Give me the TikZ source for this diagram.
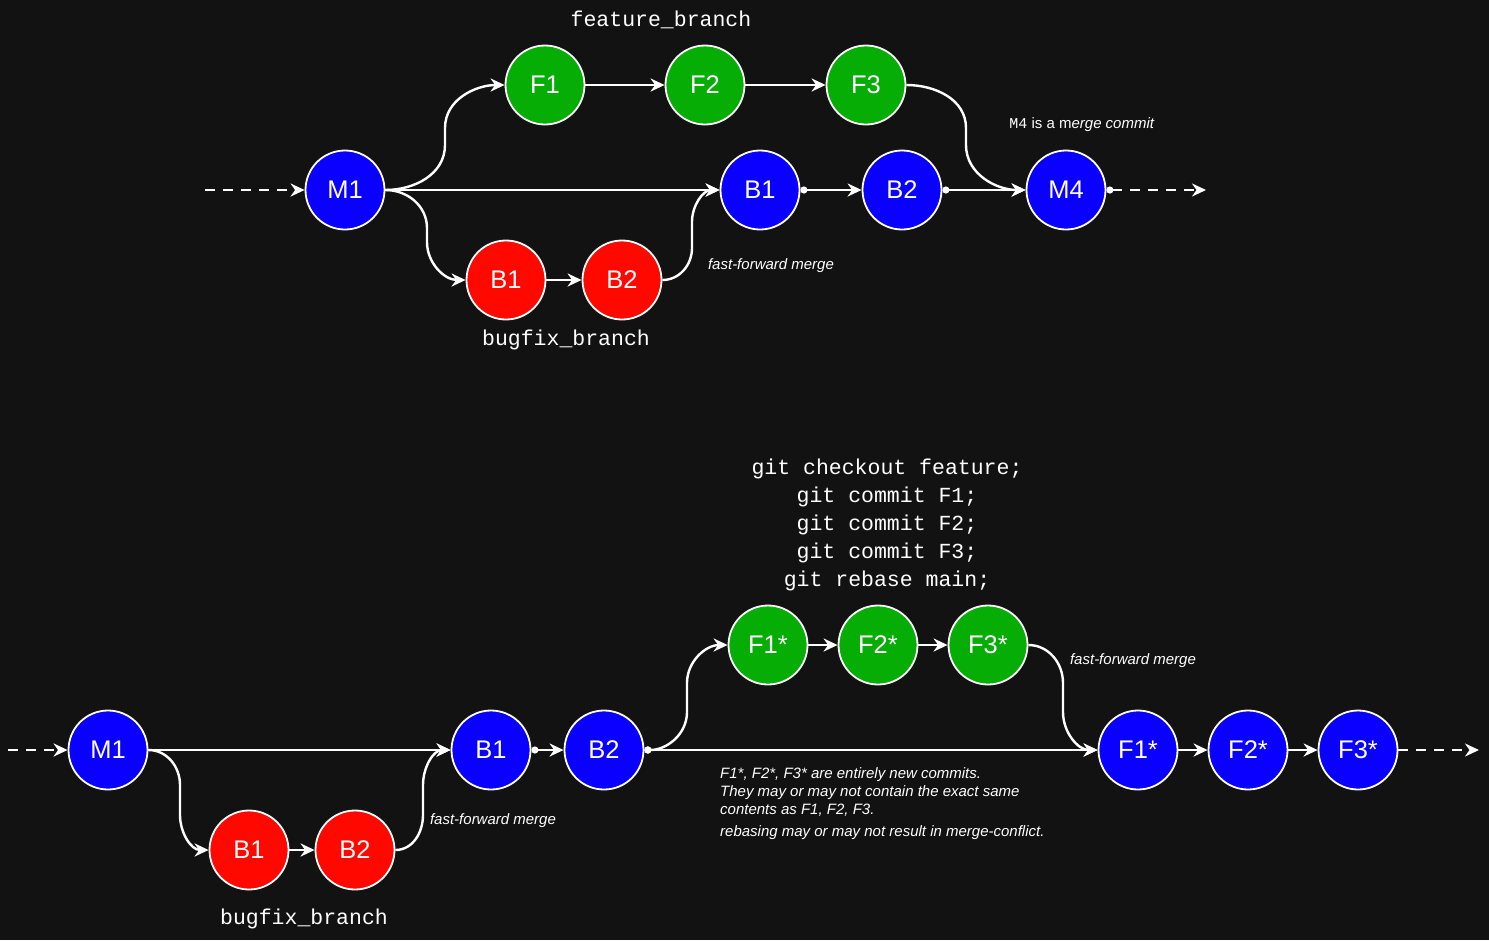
\documentclass[tikz,border=0pt]{standalone}
\usepackage{fontspec}
\setmainfont{Liberation Sans}
\setmonofont{Liberation Mono}
\usetikzlibrary{arrows.meta}
\definecolor{bg}{HTML}{121212}
\definecolor{cblue}{HTML}{0A00FF}
\definecolor{cgreen}{HTML}{05AD05}
\definecolor{cred}{HTML}{FF0800}
\tikzset{
  commit/.style={circle, draw=white, line width=1.8pt, minimum size=79pt, inner sep=0pt, text=white, font=\fontsize{25.5}{25.5}\selectfont},
  bluec/.style={commit, fill=cblue},
  greenc/.style={commit, fill=cgreen},
  redc/.style={commit, fill=cred},
  edge/.style={draw=white, line width=2.4pt, -{Stealth[length=14pt,width=13pt,inset=4.5pt]}},
  dotedge/.style={draw=white, line width=2.4pt, {Circle[length=7pt,width=7pt]}-{Stealth[length=14pt,width=13pt,inset=4.5pt]}},
  dashedge/.style={edge, dash pattern=on 10pt off 8pt},
  dotdashedge/.style={dotedge, dash pattern=on 10pt off 8pt},
  mono/.style={text=white, font=\ttfamily\fontsize{21.5}{28}\selectfont, inner sep=0pt},
  note/.style={text=white, font=\itshape\fontsize{15}{18}\selectfont, inner sep=0pt},
}
\begin{document}
\begin{tikzpicture}[x=1pt, y=-1pt]
\fill[bg] (0,0) rectangle (1489,940);
\useasboundingbox (0,0) rectangle (1489,940);

% ---------- top diagram ----------
\coordinate (tin) at (205,190);
\coordinate (tout) at (1206,190);
\node[bluec] (tM1) at (345,190) {M1};
\node[greenc] (tF1) at (545,85) {F1};
\node[greenc] (tF2) at (705,85) {F2};
\node[greenc] (tF3) at (866,85) {F3};
\node[bluec] (tB1) at (760,190) {B1};
\node[bluec] (tB2) at (902,190) {B2};
\node[bluec] (tM4) at (1066,190) {M4};
\node[redc] (tR1) at (506,280) {B1};
\node[redc] (tR2) at (622,280) {B2};

\node[mono] (tfeat) at (661,20) {feature\_branch};
\node[mono] (tbug) at (566,340) {bugfix\_branch};
\node[text=white, inner sep=0pt, font=\fontsize{15}{15}\selectfont] (tm4note) at (1082,125) {{\ttfamily M4} is a m\textit{erge commit}};
\node[note] (tff) at (771,266) {fast-forward merge};

\draw[dashedge] (tin) -- (tM1.west);
\draw[edge] (tM1.east) to[out=0,in=-90] (445,145) -- (445,128) to[out=90,in=180] (tF1.west);
\draw[edge] (tF1) -- (tF2);
\draw[edge] (tF2) -- (tF3);
\draw[edge] (tM1.east) -- (tB1.west);
\draw[edge] (tM1.east) to[out=0,in=90] (427,228) -- (427,242) to[out=-90,in=180] (tR1.west);
\draw[edge] (tR1) -- (tR2);
\draw[edge] (tR2.east) to[out=0,in=-90] (692,248) -- (692,222) to[out=90,in=180] (tB1.west);
\draw[dotedge] (tB1.east) -- (tB2.west);
\draw[dotedge] (tB2.east) -- (tM4.west);
\draw[edge] (tF3.east) to[out=0,in=90] (966,128) -- (966,145) to[out=-90,in=180] (tM4.west);
\draw[dotdashedge] (tM4.east) -- (tout);

% ---------- bottom diagram ----------
\coordinate (bin) at (8,750);
\coordinate (bout) at (1479,750);
\node[bluec] (bM1) at (108,750) {M1};
\node[redc] (bR1) at (249,850) {B1};
\node[redc] (bR2) at (355,850) {B2};
\node[bluec] (bB1) at (491,750) {B1};
\node[bluec] (bB2) at (604,750) {B2};
\node[greenc] (bG1) at (768,645) {F1*};
\node[greenc] (bG2) at (878,645) {F2*};
\node[greenc] (bG3) at (988,645) {F3*};
\node[bluec] (bF1) at (1138,750) {F1*};
\node[bluec] (bF2) at (1248,750) {F2*};
\node[bluec] (bF3) at (1358,750) {F3*};

\node[mono, align=center] (bcode) at (887,525) {git checkout feature;\\git commit F1;\\git commit F2;\\git commit F3;\\git rebase main;};
\node[mono] (bbug) at (304,919) {bugfix\_branch};
\node[note] (bff1) at (493,821) {fast-forward merge};
\node[note] (bff2) at (1133,661) {fast-forward merge};
\node[note, align=left, anchor=north west] (bnote) at (720,767) {F1*, F2*, F3* are entirely new commits.\\They may or may not contain the exact same\\contents as F1, F2, F3.\\[4pt]rebasing may or may not result in merge-conflict.};

\draw[dashedge] (bin) -- (bM1.west);
\draw[edge] (bM1.east) to[out=0,in=90] (180,785) -- (180,815) to[out=-90,in=180] (bR1.west);
\draw[edge] (bM1.east) -- (bB1.west);
\draw[edge] (bR1) -- (bR2);
\draw[edge] (bR2.east) to[out=0,in=-90] (423,815) -- (423,785) to[out=90,in=180] (bB1.west);
\draw[dotedge] (bB1.east) -- (bB2.west);
\draw[dotedge] (bB2.east) to[out=0,in=-90] (687,712) -- (687,683) to[out=90,in=180] (bG1.west);
\draw[dotedge] (bB2.east) -- (bF1.west);
\draw[edge] (bG1) -- (bG2);
\draw[edge] (bG2) -- (bG3);
\draw[edge] (bG3.east) to[out=0,in=90] (1063,683) -- (1063,712) to[out=-90,in=180] (bF1.west);
\draw[edge] (bF1) -- (bF2);
\draw[edge] (bF2) -- (bF3);
\draw[dashedge] (bF3.east) -- (bout);
\end{tikzpicture}
\end{document}
